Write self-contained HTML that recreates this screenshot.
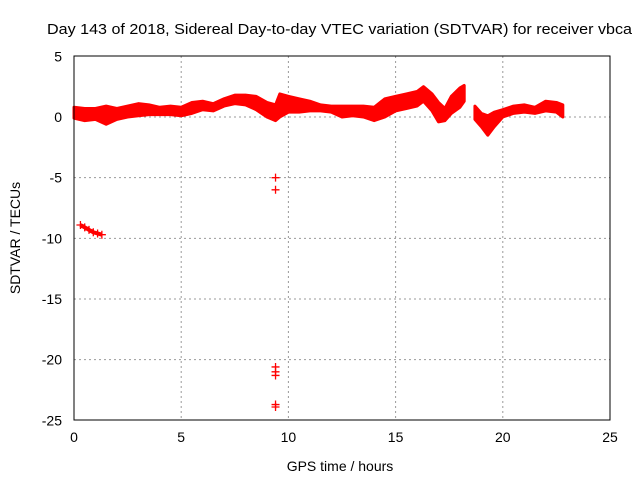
<!DOCTYPE html>
<html><head><meta charset="utf-8"><style>
body{margin:0;background:#fff}
svg text{font-family:"Liberation Sans",sans-serif;font-size:14px;fill:#000}
</style></head><body>
<svg width="640" height="480">
<rect width="640" height="480" fill="#fff"/>
<g id="grid"></g><g id="ticks"></g><g id="series"></g>
<rect x="74" y="56" width="536" height="364" fill="none" stroke="#000" stroke-width="1"/>
<text x="47" y="34" textLength="585" lengthAdjust="spacingAndGlyphs" style="font-size:15px">Day 143 of 2018, Sidereal Day-to-day VTEC variation (SDTVAR) for receiver vbca</text>
<text x="340" y="471" text-anchor="middle">GPS time / hours</text>
<text transform="translate(20,238) rotate(-90)" text-anchor="middle">SDTVAR / TECUs</text>
</svg>
<script>
const xTicks=[0,5,10,15,20,25];
const yTicks=[5,0,-5,-10,-15,-20,-25];
const bandT=[0,0.5,1,1.5,2,2.5,3,3.5,4,4.5,5,5.5,6,6.5,7,7.5,8,8.5,9,9.4,9.6,10,10.5,11,11.5,12,12.5,13,13.5,14,14.5,15,15.5,16,16.3,16.7,17,17.3,17.6,18,18.2];
const bandLo=[-0.1,-0.3,-0.2,-0.6,-0.2,0,0.1,0.2,0.2,0.2,0.1,0.3,0.6,0.5,0.9,1.1,1.0,0.6,0.0,-0.3,0,0.4,0.4,0.5,0.5,0.4,0.0,0.1,0.0,-0.3,0.0,0.5,0.7,0.9,1.3,0.5,-0.4,-0.3,0.3,0.8,1.3];
const bandHi=[0.8,0.7,0.7,0.9,0.7,0.9,1.1,1.0,0.8,0.9,0.8,1.2,1.3,1.1,1.5,1.8,1.8,1.7,1.2,1.0,1.9,1.7,1.5,1.3,1.0,0.9,0.9,0.9,0.9,0.8,1.5,1.7,1.9,2.1,2.5,1.9,1.2,0.7,1.7,2.4,2.6];
const band2T=[18.7,19.0,19.3,19.6,20,20.5,21,21.5,22,22.5,22.8];
const band2Lo=[-0.2,-0.8,-1.5,-0.8,0.0,0.3,0.4,0.3,0.5,0.4,0.0];
const band2Hi=[0.9,0.3,0.1,0.4,0.6,0.9,1.0,0.8,1.3,1.2,1.0];
const outT=[0.3,0.5,0.7,0.9,1.1,1.3,9.4,9.4,9.4,9.4,9.4,9.4,9.4];
const outV=[-8.9,-9.1,-9.3,-9.5,-9.6,-9.7,-5,-6,-20.6,-21.0,-21.3,-23.7,-23.9];
const NS='http://www.w3.org/2000/svg';
const X=t=>74+t*(536/25), Y=v=>117-v*(364/30);
function mk(tag,a,p){const e=document.createElementNS(NS,tag);for(const k in a)e.setAttribute(k,a[k]);p.appendChild(e);return e;}
const grid=document.getElementById('grid'),ticks=document.getElementById('ticks'),ser=document.getElementById('series');
xTicks.forEach(t=>{
 if(t>0&&t<25){const l=mk('line',{x1:X(t),x2:X(t),y1:56,y2:420,stroke:'#999','stroke-dasharray':'2,3'},grid);
 
 }
 const tx=mk('text',{x:X(t),y:442,'text-anchor':'middle'},ticks);tx.textContent=t;
 
 
});
yTicks.forEach(v=>{
 if(v<5&&v>-25){const l=mk('line',{x1:74,x2:610,y1:Y(v),y2:Y(v),stroke:'#999','stroke-dasharray':'2,3'},grid);
 
 }
 const tx=mk('text',{x:62,y:Y(v)+5,'text-anchor':'end'},ticks);tx.textContent=v;
 
 
});
function band(T,L,H,name){
 let pts=T.map((t,i)=>X(t)+','+Y(H[i]));
 for(let i=T.length-1;i>=0;i--)pts.push(X(T[i])+','+Y(L[i]));
 const p=mk('polygon',{points:pts.join(' '),fill:'#f00',stroke:'#f00','stroke-width':3,'stroke-linejoin':'round'},ser);
 
 
}
band(bandT,bandLo,bandHi,'sdtvar-band-1');
band(band2T,band2Lo,band2Hi,'sdtvar-band-2');
function plus(t,v){
 const g=mk('path',{d:`M${X(t)-4},${Y(v)}h8M${X(t)},${Y(v)-4}v8`,stroke:'#f00','stroke-width':1.3},ser);
 
 
}
outT.forEach((t,i)=>plus(t,outV[i]));
mk('polyline',{points:outT.slice(0,6).map((t,i)=>X(t)+','+Y(outV[i])).join(' '),stroke:'#f00','stroke-width':4,fill:'none'},ser);
</script>
</body></html>
